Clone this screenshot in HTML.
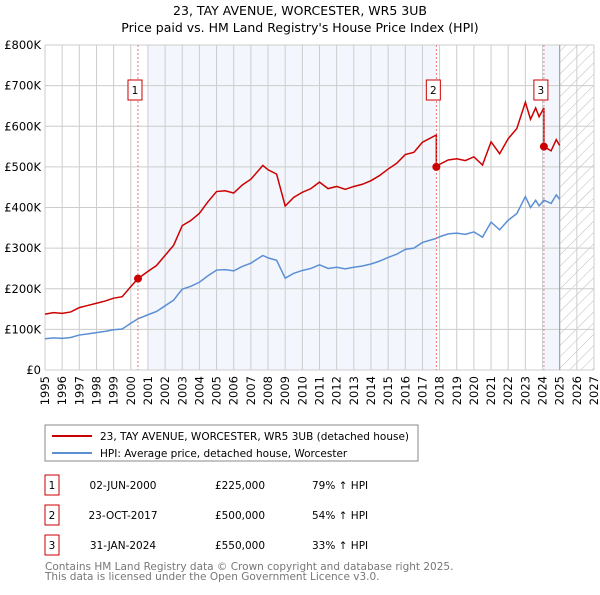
<!DOCTYPE html>
<html><head><meta charset="utf-8"><style>
body{margin:0;background:#fff;font-family:"Liberation Sans","DejaVu Sans",sans-serif}
svg text{font-family:"DejaVu Sans","Liberation Sans",sans-serif}
</style></head><body>
<svg id="c" width="600" height="590" xmlns="http://www.w3.org/2000/svg">
<text x="300" y="15" text-anchor="middle" font-size="12.5">23, TAY AVENUE, WORCESTER, WR5 3UB</text>
<text x="300" y="32" text-anchor="middle" font-size="12.5">Price paid vs. HM Land Registry's House Price Index (HPI)</text>
<g id="plot"></g>
<rect x="45" y="425" width="373" height="36" fill="#fff" stroke="#888"/>
<line x1="52" y1="436" x2="92" y2="436" stroke="#cc0000" stroke-width="2"/>
<text x="100" y="440" font-size="10.5">23, TAY AVENUE, WORCESTER, WR5 3UB (detached house)</text>
<line x1="52" y1="453" x2="92" y2="453" stroke="#5b8fd4" stroke-width="2"/>
<text x="100" y="457" font-size="10.5">HPI: Average price, detached house, Worcester</text>
<g id="tbl" font-size="10.5"></g>
<text x="45" y="570" font-size="10.5" fill="#777">Contains HM Land Registry data © Crown copyright and database right 2025.</text>
<text x="45" y="580" font-size="10.5" fill="#777">This data is licensed under the Open Government Licence v3.0.</text>
</svg>
<script>
const hpiYears=[1995,1995.5,1996,1996.5,1997,1997.5,1998,1998.5,1999,1999.5,2000,2000.42,2001,2001.5,2002,2002.5,2003,2003.5,2004,2004.5,2005,2005.5,2006,2006.5,2007,2007.7,2008,2008.5,2009,2009.5,2010,2010.5,2011,2011.5,2012,2012.5,2013,2013.5,2014,2014.5,2015,2015.5,2016,2016.5,2017,2017.81,2018,2018.5,2019,2019.5,2020,2020.5,2021,2021.5,2022,2022.5,2023,2023.3,2023.6,2023.8,2024.08,2024.5,2024.8,2025];
const hpiValues=[77,79,78,80,86,89,92,95,99,101,115,126,136,144,158,172,199,206,216,232,246,247,244,255,263,282,276,270,226,238,245,250,259,250,253,249,253,256,261,268,277,285,297,300,314,324,328,335,337,334,340,327,364,345,369,385,427,400,418,404,418,410,431,420];
const saleDates=[2000.42,2017.81,2024.08];
const salePrices=[225000,500000,550000];
const saleLabels=["1","2","3"];
const saleDateText=["02-JUN-2000","23-OCT-2017","31-JAN-2024"];
const salePriceText=["£225,000","£500,000","£550,000"];
const salePctText=["79% ↑ HPI","54% ↑ HPI","33% ↑ HPI"];
const yTicks=[0,100000,200000,300000,400000,500000,600000,700000,800000];
const yTickLabels=["£0","£100K","£200K","£300K","£400K","£500K","£600K","£700K","£800K"];
const xTicks=[1995,1996,1997,1998,1999,2000,2001,2002,2003,2004,2005,2006,2007,2008,2009,2010,2011,2012,2013,2014,2015,2016,2017,2018,2019,2020,2021,2022,2023,2024,2025,2026,2027];

const X0=45,X1=594,Y0=370,Y1=45;
const xs=y=>X0+(y-1995)/(2027-1995)*(X1-X0);
const ys=v=>Y0-v/800000*(Y0-Y1);
const NS="http://www.w3.org/2000/svg";
const plot=document.getElementById('plot');
function mk(t,a,p){const e=document.createElementNS(NS,t);for(const k in a)e.setAttribute(k,a[k]);(p||plot).appendChild(e);return e;}
function hpiAt(t){for(let i=0;i<hpiYears.length-1;i++){if(t<=hpiYears[i+1]){const f=(t-hpiYears[i])/(hpiYears[i+1]-hpiYears[i]);return hpiValues[i]+f*(hpiValues[i+1]-hpiValues[i]);}}return hpiValues[hpiValues.length-1];}

let e;
e=mk('rect',{x:xs(2001),y:Y1,width:xs(saleDates[1])-xs(2001),height:Y0-Y1,fill:'#eef3fc',opacity:0.7});


e=mk('rect',{x:xs(saleDates[2]),y:Y1,width:xs(2025)-xs(saleDates[2]),height:Y0-Y1,fill:'#eef3fc',opacity:0.7});


const defs=mk('defs',{});
const pat=mk('pattern',{id:'h',width:8,height:8,patternUnits:'userSpaceOnUse',patternTransform:'rotate(45)'},defs);
mk('line',{x1:0,y1:0,x2:0,y2:8,stroke:'#bbb','stroke-width':1},pat);
e=mk('rect',{x:xs(2025),y:Y1,width:X1-xs(2025),height:Y0-Y1,fill:'url(#h)'});


xTicks.forEach(t=>{const g=mk('line',{x1:xs(t),y1:Y1,x2:xs(t),y2:Y0,stroke:'#ccc'});


const l=mk('text',{x:0,y:0,'text-anchor':'end','font-size':11.5,transform:'translate('+(xs(t)+4)+','+(Y0+6)+') rotate(-90)'});l.textContent=t;

});
yTicks.forEach((t,i)=>{const g=mk('line',{x1:X0,y1:ys(t),x2:X1,y2:ys(t),stroke:'#ccc'});


const l=mk('text',{x:X0-4,y:ys(t)+4,'text-anchor':'end','font-size':11.5});l.textContent=yTickLabels[i];

});
e=mk('line',{x1:xs(2025),y1:Y1,x2:xs(2025),y2:Y0,stroke:'#999','stroke-width':1});


e=mk('polyline',{points:hpiYears.map((t,i)=>xs(t)+','+ys(hpiValues[i]*1000)).join(' '),fill:'none',stroke:'#5b8fd4','stroke-width':1.5});


const pts=[];
const firstRatio=salePrices[0]/(hpiAt(saleDates[0])*1000);
hpiYears.forEach((t,i)=>{
  let k=-1;for(let j=0;j<saleDates.length;j++)if(t>=saleDates[j])k=j;
  const r=k<0?firstRatio:salePrices[k]/(hpiAt(saleDates[k])*1000);
  if(k>0&&Math.abs(t-saleDates[k])<1e-6){const pr=salePrices[k-1]/(hpiAt(saleDates[k-1])*1000);pts.push(xs(t)+','+ys(hpiValues[i]*1000*pr));}
  pts.push(xs(t)+','+ys(hpiValues[i]*1000*r));
});
e=mk('polyline',{points:pts.join(' '),fill:'none',stroke:'#cc0000','stroke-width':1.5});


saleDates.forEach((d,i)=>{
  const v=mk('line',{x1:xs(d),y1:Y1,x2:xs(d),y2:Y0,stroke:'#e06060','stroke-dasharray':'2,2','stroke-width':0.8});
  
  
  const c=mk('circle',{cx:xs(d),cy:ys(salePrices[i]),r:4,fill:'#cc0000'});
  
  
  const b=mk('rect',{x:xs(d)-10,y:80,width:14,height:20,fill:'#fff',stroke:'#cc0000'});
  
  
  const t=mk('text',{x:xs(d)-3,y:94,'text-anchor':'middle','font-size':10.5});t.textContent=saleLabels[i];
  
  
});
const tbl=document.getElementById('tbl');
saleDates.forEach((d,i)=>{
  const y=483+i*30;
  const b=mk('rect',{x:45,y:y-8,width:14,height:20,fill:'#fff',stroke:'#cc0000'},tbl);
  
  
  const cols=[[52,saleLabels[i],'middle'],[123,saleDateText[i],'middle'],[240,salePriceText[i],'middle'],[312,salePctText[i],'start']];
  cols.forEach(c=>{const t=mk('text',{x:c[0],y:y+6,'text-anchor':c[2]},tbl);t.textContent=c[1];
  
  });
});
</script>
</body></html>
